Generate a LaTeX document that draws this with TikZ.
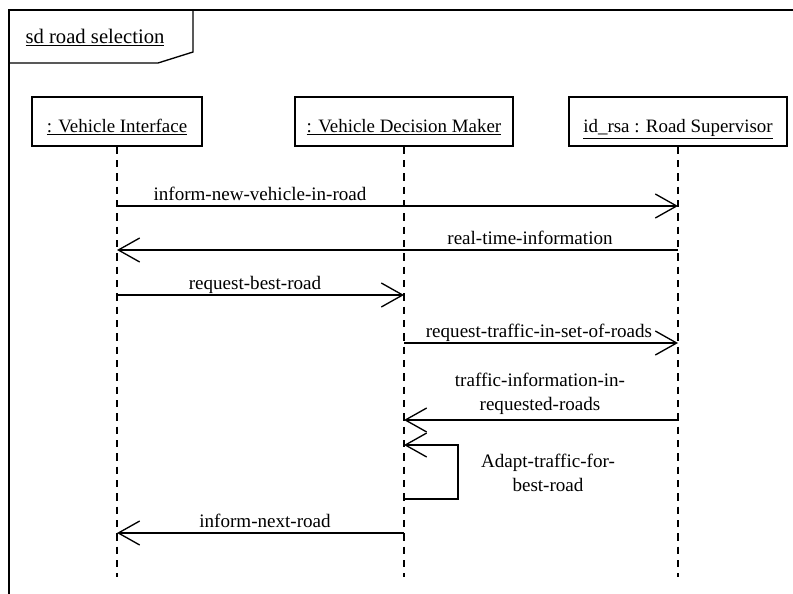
\documentclass[tikz,border=0pt]{standalone}
\usepackage{fontspec}
\setmainfont{Liberation Serif}
\usetikzlibrary{arrows.meta}

\tikzset{
  frameline/.style={line width=1pt},
  lifebox/.style={draw, line width=1pt, minimum height=36.75pt,
    text height=16pt, text depth=0pt, inner sep=0pt,
    font=\fontsize{14.2}{16}\selectfont},
  lifeline/.style={line width=0.8pt, dash pattern=on 5.5pt off 4.5pt},
  msg/.style={line width=1pt,
    -{Straight Barb[length=16pt,width=18pt,line width=1pt]}},
  lbl/.style={anchor=base, inner sep=0pt, font=\fontsize{14.3}{16}\selectfont},
  lbltwo/.style={anchor=center, inner sep=0pt, align=center,
    font=\fontsize{14.3}{18}\selectfont},
}

\begin{document}
\begin{tikzpicture}[x=0.75pt,y=-0.75pt]
  \useasboundingbox (0,0) rectangle (793,593);
  \clip (0,0) rectangle (793,593);

  % interaction frame and its name tab
  \draw[frameline] (9,600) -- (9,10) -- (800,10);
  \draw[frameline] (193,10) -- (193,52) -- (158,63) -- (9,63);
  \node[lbl, font=\fontsize{15.5}{17}\selectfont] (title) at (95,43)
    {\underline{sd road selection}};

  % participants
  \node[lifebox, minimum width=127.5pt] (vi) at (117,121.5)
    {\underline{: Vehicle Interface}};
  \node[lifebox, minimum width=163.5pt] (dm) at (404,121.5)
    {\underline{: Vehicle Decision Maker}};
  \node[lifebox, minimum width=163.5pt] (rs) at (678,121.5)
    {\underline{id\_rsa : Road Supervisor}};

  % lifelines
  \draw[lifeline] (vi.south) -- (vi.south |- 0,577);
  \draw[lifeline] (dm.south) -- (dm.south |- 0,577);
  \draw[lifeline] (rs.south) -- (rs.south |- 0,577);

  % messages
  \draw[msg] (vi.south |- 0,206) -- (rs.south |- 0,206);
  \node[lbl] (m1) at (260,200) {inform-new-vehicle-in-road};

  \draw[msg] (rs.south |- 0,250) -- (vi.south |- 0,250);
  \node[lbl] (m2) at (530,244) {real-time-information};

  \draw[msg] (vi.south |- 0,295) -- (dm.south |- 0,295);
  \node[lbl] (m3) at (255,289) {request-best-road};

  \draw[msg] (dm.south |- 0,343) -- (rs.south |- 0,343);
  \node[lbl] (m4) at (539,337) {request-traffic-in-set-of-roads};

  \draw[msg] (rs.south |- 0,420) -- (dm.south |- 0,420);
  \node[lbltwo] (m5) at (540,394) {traffic-information-in-\\requested-roads};

  % self message
  \draw[msg] (dm.south |- 0,499) -- (458,499) -- (458,445) -- (dm.south |- 0,445);
  \node[lbltwo] (m6) at (548,473) {Adapt-traffic-for-\\best-road};

  \draw[msg] (dm.south |- 0,533) -- (vi.south |- 0,533);
  \node[lbl] (m7) at (265,527) {inform-next-road};
\end{tikzpicture}
\end{document}
